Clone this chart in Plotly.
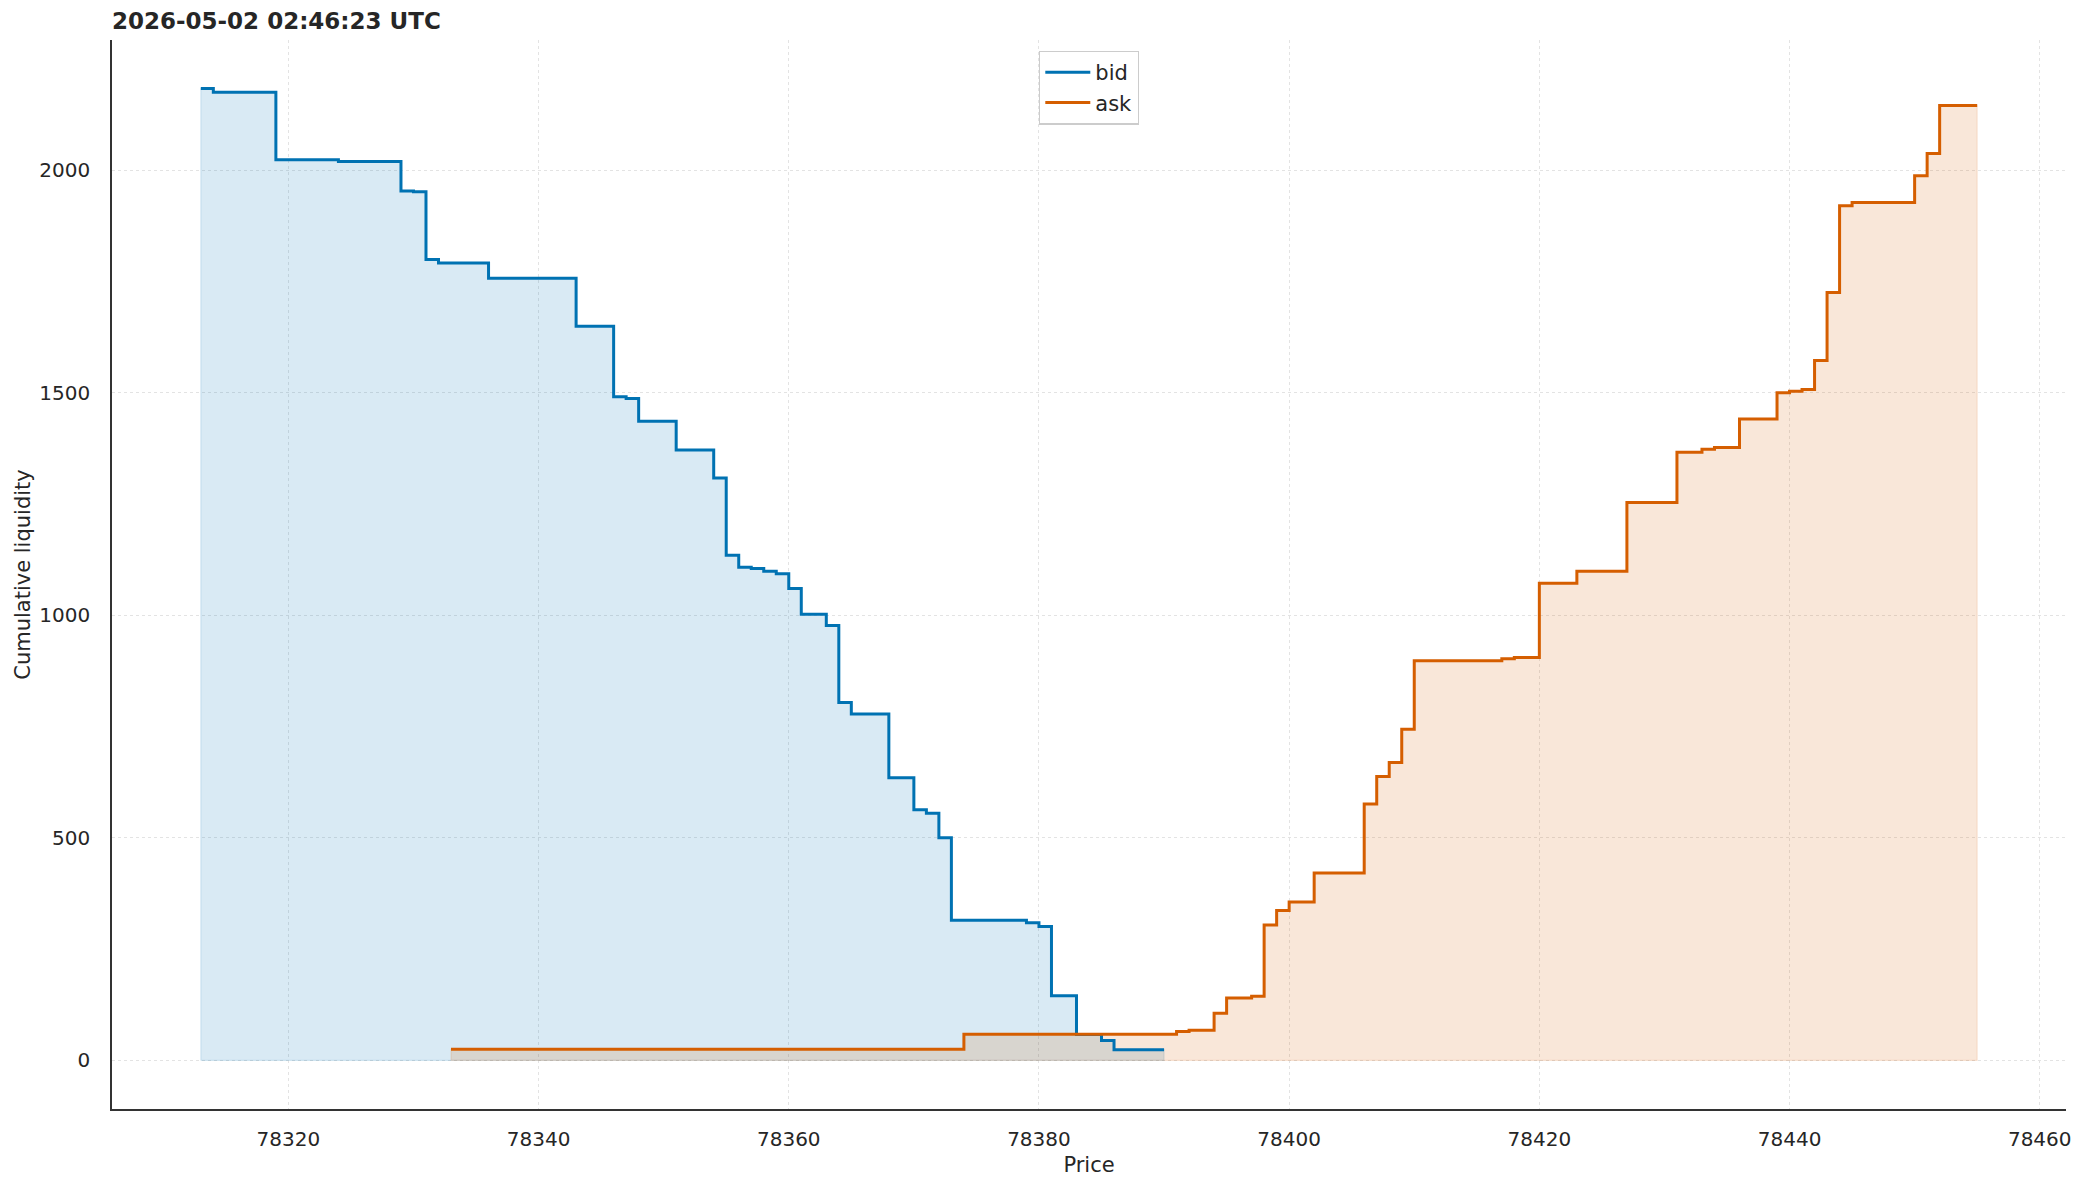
import plotly.graph_objects as go

# ---- data ----
title_text = "2026-05-02 02:46:23 UTC"

bid_price = [78313, 78314, 78319, 78324, 78329, 78330, 78331, 78332, 78336, 78343,
             78346, 78347, 78348, 78351, 78354, 78355, 78356, 78357, 78358, 78359,
             78360, 78361, 78363, 78364, 78365, 78368, 78370, 78371, 78372, 78373,
             78379, 78380, 78381, 78383, 78385, 78386, 78390]
bid_cum = [2183, 2175, 2023, 2019, 1953, 1951, 1799, 1791, 1757, 1649,
           1491, 1487, 1436, 1371, 1308, 1135, 1108, 1105, 1099, 1093,
           1060, 1002, 977, 804, 778, 635, 563, 555, 500, 315,
           309, 301, 145, 58, 45, 24, 24]

ask_price = [78333, 78374, 78391, 78392, 78394, 78395, 78397, 78398, 78399, 78400,
             78402, 78406, 78407, 78408, 78409, 78410, 78417, 78418, 78420, 78423,
             78427, 78431, 78433, 78434, 78436, 78439, 78440, 78441, 78442, 78443,
             78444, 78445, 78450, 78451, 78452, 78455]
ask_cum = [25, 59, 65, 68, 106, 140, 144, 304, 337, 356,
           421, 576, 638, 669, 744, 898, 902, 905, 1072, 1099,
           1253, 1366, 1373, 1377, 1441, 1500, 1503, 1507, 1572, 1725,
           1920, 1927, 1987, 2037, 2145, 2145]

x_ticks = [78320, 78340, 78360, 78380, 78400, 78420, 78440, 78460]
y_ticks = [0, 500, 1000, 1500, 2000]

BID = "#0072B2"
ASK = "#D55E00"
BID_FILL = "rgba(0,114,178,0.15)"
ASK_FILL = "rgba(213,94,0,0.15)"
BID_EDGE = "rgba(0,114,178,0.12)"
ASK_EDGE = "rgba(213,94,0,0.12)"
TXT = "#262626"
FONT = "DejaVu Sans"


def closed(px, py):
    xs = [px[0]] + list(px) + [px[-1], px[0]]
    ys = [0] + list(py) + [0, 0]
    return xs, ys


fig = go.Figure()

bx, by = closed(bid_price, bid_cum)
fig.add_trace(go.Scatter(x=bx, y=by, mode="lines", line=dict(shape="hv", color=BID_EDGE, width=1.3),
                         fill="toself", fillcolor=BID_FILL, showlegend=False, hoverinfo="skip"))
ax, ay = closed(ask_price, ask_cum)
fig.add_trace(go.Scatter(x=ax, y=ay, mode="lines", line=dict(shape="hv", color=ASK_EDGE, width=1.3),
                         fill="toself", fillcolor=ASK_FILL, showlegend=False, hoverinfo="skip"))

fig.add_trace(go.Scatter(x=bid_price, y=bid_cum, mode="lines", name="bid",
                         line=dict(shape="hv", color=BID, width=3)))
fig.add_trace(go.Scatter(x=ask_price, y=ask_cum, mode="lines", name="ask",
                         line=dict(shape="hv", color=ASK, width=3)))

xmin, xmax = min(bid_price + ask_price), max(bid_price + ask_price)
xpad = (xmax - xmin) * 0.05
ymax = max(bid_cum + ask_cum)
ypad = ymax * 0.05

axis_common = dict(
    showgrid=True, gridcolor="#e3e3e3", griddash="dot", gridwidth=1.2,
    showline=True, linecolor="#333333", linewidth=1.7, zeroline=False,
    ticks="outside", tickcolor="rgba(0,0,0,0)",
    tickfont=dict(family=FONT, size=20, color=TXT),
    mirror=False,
)

fig.update_layout(
    width=2085, height=1192, autosize=False,
    margin=dict(l=112, r=19, t=40, b=83),
    paper_bgcolor="white", plot_bgcolor="white",
    font=dict(family=FONT, color=TXT),
    title=dict(text="<b>" + title_text + "</b>", x=0, xref="paper", xanchor="left",
               y=1 - 21 / 1192, yref="container", yanchor="middle",
               font=dict(family=FONT, size=23, color=TXT)),
    xaxis=dict(axis_common, range=[xmin - xpad, xmax + xpad], tickvals=x_ticks, ticklen=11,
               ticktext=[str(v) for v in x_ticks],
               title=dict(text="Price", font=dict(family=FONT, size=21, color=TXT), standoff=7)),
    yaxis=dict(axis_common, range=[-ypad, ymax + ypad], tickvals=y_ticks, ticklen=16,
               ticktext=[str(v) for v in y_ticks],
               title=dict(text="Cumulative liquidity", font=dict(family=FONT, size=21, color=TXT), standoff=3)),
    legend=dict(x=0.5, xanchor="center", y=0.99, yanchor="top",
                bgcolor="rgba(255,255,255,0.8)", bordercolor="#cccccc", borderwidth=1.3,
                font=dict(family=FONT, size=21, color=TXT), tracegroupgap=0, itemwidth=45),
    showlegend=True,
)

fig.write_html("out.html")
